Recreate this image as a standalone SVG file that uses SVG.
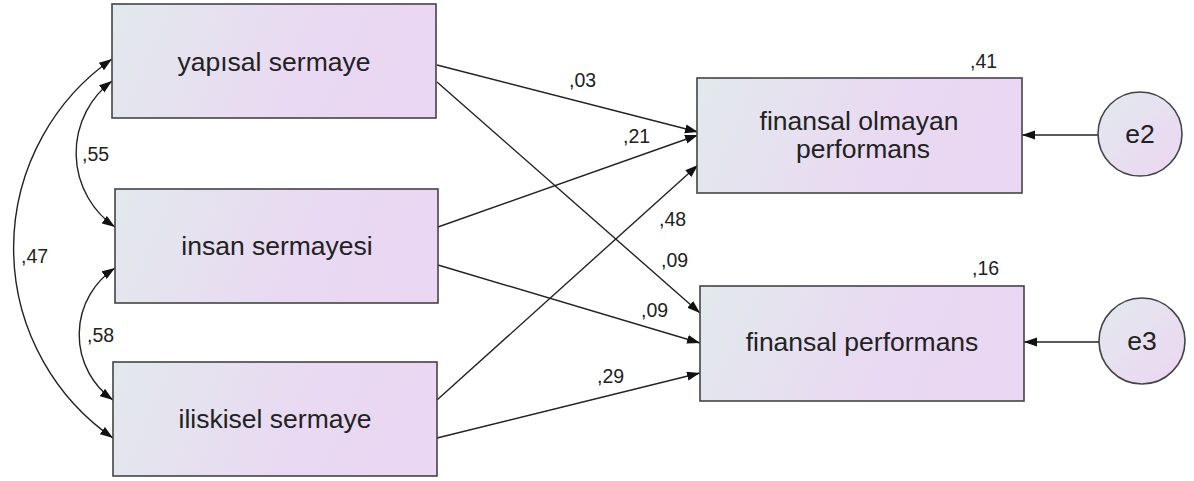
<svg xmlns="http://www.w3.org/2000/svg" width="1194" height="481" viewBox="0 0 1194 481">
  <style>
    .box { stroke: #444; stroke-width: 1.6; }
    .lbl { font-family: "Liberation Sans", Arial, sans-serif; font-size: 26.5px; fill: #222; text-anchor: middle; }
    .num { font-family: "Liberation Sans", Arial, sans-serif; font-size: 19.5px; fill: #222; }
    .edge { fill: none; stroke: #222; stroke-width: 1.4; }
  </style>
  <defs>
    <linearGradient id="fillBox" x1="0" y1="0" x2="1" y2="0.15">
      <stop offset="0" stop-color="#e2e9ec"/>
      <stop offset="0.65" stop-color="#e9d9f2"/>
      <stop offset="1" stop-color="#ead7f3"/>
    </linearGradient>
    <linearGradient id="fillCircle" x1="0" y1="0" x2="1" y2="1">
      <stop offset="0" stop-color="#e2e9ee"/>
      <stop offset="1" stop-color="#ecd6f2"/>
    </linearGradient>
    <marker id="arrow" markerUnits="userSpaceOnUse" markerWidth="14" markerHeight="10" refX="13" refY="4.5" orient="auto-start-reverse">
      <path d="M0,0 L13,4.5 L0,9 z" fill="#111"/>
    </marker>
  </defs>

  <rect width="1194" height="481" fill="#ffffff"/>

  <!-- connectors -->
  <g id="connectors">
    <!-- covariances -->
    <path class="edge" d="M112,81 A90,90 0 0 0 115,227" marker-start="url(#arrow)" marker-end="url(#arrow)"/>
    <path class="edge" d="M115,268 A80,80 0 0 0 113,400" marker-start="url(#arrow)" marker-end="url(#arrow)"/>
    <path class="edge" d="M112,59 A231,231 0 0 0 113,438" marker-start="url(#arrow)" marker-end="url(#arrow)"/>
    <!-- regression paths -->
    <line class="edge" x1="437" y1="65" x2="698" y2="132" marker-end="url(#arrow)"/>
    <line class="edge" x1="437" y1="82" x2="700" y2="313" marker-end="url(#arrow)"/>
    <line class="edge" x1="438" y1="227" x2="698" y2="135" marker-end="url(#arrow)"/>
    <line class="edge" x1="438" y1="265" x2="700" y2="343" marker-end="url(#arrow)"/>
    <line class="edge" x1="437" y1="400" x2="698" y2="165" marker-end="url(#arrow)"/>
    <line class="edge" x1="437" y1="438" x2="700" y2="373" marker-end="url(#arrow)"/>
    <!-- error terms -->
    <line class="edge" x1="1098" y1="135" x2="1022" y2="135" marker-end="url(#arrow)"/>
    <line class="edge" x1="1099" y1="342" x2="1024" y2="342" marker-end="url(#arrow)"/>
  </g>

  <g id="yapisal">
    <rect class="box" x="112" y="4" width="324" height="114" fill="url(#fillBox)"/>
    <text class="lbl" x="274" y="71">yapısal sermaye</text>
  </g>
  <g id="insan">
    <rect class="box" x="115" y="189" width="323" height="114" fill="url(#fillBox)"/>
    <text class="lbl" x="277" y="255">insan sermayesi</text>
  </g>
  <g id="iliskisel">
    <rect class="box" x="113" y="362" width="324" height="114" fill="url(#fillBox)"/>
    <text class="lbl" x="275" y="428">iliskisel sermaye</text>
  </g>
  <g id="finansal-olmayan">
    <rect class="box" x="697" y="78" width="325" height="115" fill="url(#fillBox)"/>
    <text class="lbl" x="859" y="130">finansal olmayan</text>
    <text class="lbl" x="863" y="158">performans</text>
    <text class="num" x="970" y="68">,41</text>
  </g>
  <g id="finansal-performans">
    <rect class="box" x="700" y="286" width="324" height="115" fill="url(#fillBox)"/>
    <text class="lbl" x="862" y="351">finansal performans</text>
    <text class="num" x="972" y="275">,16</text>
  </g>
  <g id="e2">
    <circle class="box" cx="1140" cy="134" r="42" fill="url(#fillCircle)"/>
    <text class="lbl" x="1140" y="143">e2</text>
  </g>
  <g id="e3">
    <circle class="box" cx="1142" cy="341" r="43" fill="url(#fillCircle)"/>
    <text class="lbl" x="1142" y="350">e3</text>
  </g>

  <!-- path coefficients -->
  <g id="coefficients">
    <text class="num" x="569" y="87">,03</text>
    <text class="num" x="623" y="143">,21</text>
    <text class="num" x="659" y="226">,48</text>
    <text class="num" x="661" y="267">,09</text>
    <text class="num" x="641" y="317">,09</text>
    <text class="num" x="597" y="383">,29</text>
    <text class="num" x="82" y="161">,55</text>
    <text class="num" x="87" y="342">,58</text>
    <text class="num" x="21" y="263">,47</text>
  </g>
</svg>
